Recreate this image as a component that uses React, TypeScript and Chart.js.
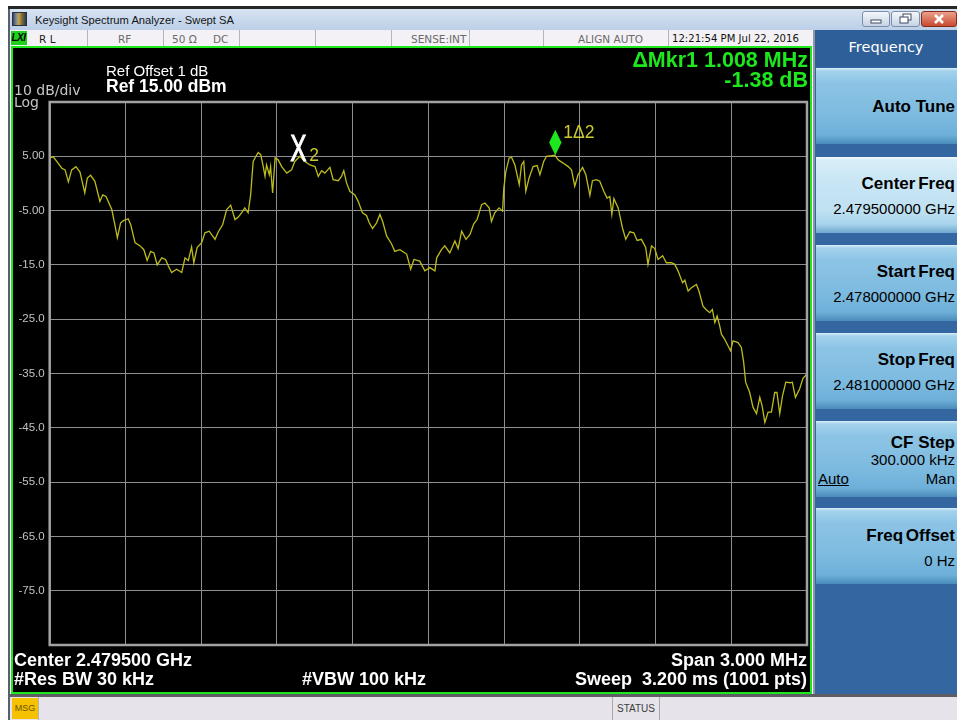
import React, { useEffect, useRef } from 'react';
import { Chart, registerables } from 'chart.js';

Chart.register(...registerables);

// ---- Trace data (offset from start frequency 2.478 GHz, in kHz) ----
const traceFreqKHz = [
  0, 14, 28, 48, 61, 74, 87, 104, 120, 139, 149, 162, 179, 199, 210, 223, 246, 258, 268, 281,
  294, 311, 321, 338, 358, 373, 386, 400, 413, 426, 444, 459, 470, 483, 503, 523, 536, 549, 562, 571,
  584, 602, 615, 632, 655, 668, 685, 701, 717, 734, 747, 760, 773, 786, 796, 806, 817, 826, 836, 846,
  853, 859, 870, 875, 883, 893, 905, 919, 939, 958, 971, 991, 1011, 1031, 1051, 1064, 1077, 1090, 1110, 1123,
  1143, 1156, 1165, 1176, 1189, 1209, 1222, 1239, 1255, 1266, 1279, 1295, 1308, 1319, 1335, 1354, 1367, 1387, 1414, 1430,
  1443, 1466, 1486, 1506, 1526, 1533, 1552, 1565, 1585, 1605, 1618, 1632, 1649, 1665, 1680, 1693, 1711, 1724, 1741, 1750,
  1763, 1780, 1794, 1799, 1807, 1820, 1830, 1843, 1860, 1869, 1878, 1886, 1899, 1915, 1931, 1942, 1957, 1968, 1988, 2001,
  2014, 2034, 2054, 2067, 2080, 2093, 2111, 2124, 2140, 2150, 2166, 2179, 2195, 2208, 2219, 2227, 2235, 2252, 2269, 2282,
  2298, 2314, 2327, 2344, 2361, 2370, 2384, 2397, 2410, 2428, 2443, 2463, 2476, 2489, 2507, 2516, 2529, 2542, 2562, 2572,
  2588, 2602, 2615, 2625, 2635, 2644, 2654, 2661, 2674, 2697, 2707, 2727, 2740, 2749, 2757, 2773, 2786, 2800, 2813, 2822,
  2833, 2846, 2859, 2872, 2881, 2892, 2903, 2916, 2934, 2942, 2954, 2971, 2984, 3000,
];
const traceLevelDb = [
  4.7, 4.9, 4.05, 2.8, 2.5, 0.3, 2.5, 3.1, 2.1, -1.75, 1.0, 1.5, 0.4, -3.3, -2.1, -2.4, -4.8, -7.6, -10.0, -7.25,
  -6.8, -6.5, -7.6, -10.9, -11.5, -12.2, -14.2, -12.5, -12.8, -15.0, -13.7, -14.0, -15.2, -16.4, -15.8, -16.4, -13.7, -14.2, -11.7, -14.6,
  -11.8, -10.9, -9.1, -8.8, -10.3, -8.9, -7.6, -4.8, -4.0, -6.65, -6.2, -5.4, -4.5, -5.4, -2.1, 4.05, 5.0, 5.7, 5.3, 3.1,
  1.3, 3.4, 1.6, 3.1, -1.75, 4.7, 4.35, 3.1, 1.9, 2.5, 4.05, 5.0, 4.05, 3.4, 3.1, 1.3, 2.35, 1.9, 2.95, 0.7,
  0.5, 1.3, 2.35, 0.1, -1.45, -2.1, -3.3, -5.4, -5.9, -7.25, -8.3, -7.25, -5.7, -7.0, -9.7, -11.1, -12.5, -12.2, -13.0, -15.8,
  -14.0, -14.3, -16.1, -15.5, -16.1, -13.7, -12.2, -11.5, -12.8, -10.6, -12.0, -8.8, -10.3, -9.4, -7.45, -6.65, -3.9, -3.6, -4.5, -7.0,
  -5.4, -4.5, -5.1, -0.85, 2.2, 4.7, 4.8, 3.4, -0.2, 3.4, 4.05, -1.45, 1.0, 3.1, 3.3, 1.6, 4.05, 5.0, 5.1, 5.2,
  4.35, 3.75, 3.1, 2.5, -0.5, 1.6, 2.95, 1.6, -2.2, 0.5, 0.7, 0.4, -1.45, -2.7, -2.4, -5.7, -2.8, -4.5, -8.2, -10.3,
  -8.9, -9.1, -10.5, -10.3, -11.8, -14.9, -11.5, -12.0, -14.0, -13.3, -14.6, -14.6, -14.9, -16.1, -18.3, -17.8, -19.8, -19.2, -18.6, -19.8,
  -22.6, -23.3, -23.8, -23.2, -25.6, -24.4, -26.2, -27.75, -28.7, -30.8, -29.0, -29.3, -30.2, -32.9, -36.6, -38.5, -41.2, -42.4, -39.4, -40.9,
  -44.0, -42.1, -42.1, -38.5, -38.5, -42.4, -39.1, -36.6, -36.7, -36.6, -39.4, -37.8, -35.9, -35.1,
];

// ---- Axes ----
const freqStartKHz = 0;
const freqStopKHz = 3000;
const freqDivKHz = 300;
const refLevelDb = 15;
const bottomLevelDb = -85;
const dbPerDiv = 10;
// tick labels from top gridline (15) down to bottom gridline (-85)
const yTickLabels = ['', '5.00', '-5.00', '-15.0', '-25.0', '-35.0', '-45.0', '-55.0', '-65.0', '-75.0', ''];

// ---- Markers ----
const markerNames = ['1\u03942', '2'];
const markerFreqKHz = [2003, 985];
const markerLevelDb = [5.18, 6.56];

// ---- Softkeys ----
const softkeyTitles = ['Auto Tune', 'Center Freq', 'Start Freq', 'Stop Freq', 'CF Step', 'Freq Offset'];
const softkeyValues = ['', '2.479500000 GHz', '2.478000000 GHz', '2.481000000 GHz', '300.000 kHz', '0 Hz'];

const SANS = '"Liberation Sans", Arial, Helvetica, sans-serif';
const DEJ = '"DejaVu Sans", Verdana, sans-serif';
const GREEN = '#1de81d';
const TRACE = '#bcbc1c';
const MKTXT = '#c8c832';

const overlayPlugin = {
  id: 'saOverlay',
  afterDatasetsDraw(chart: any) {
    const { ctx, chartArea: a } = chart;
    const xs = chart.scales.x;
    const ys = chart.scales.y;
    ctx.save();
    ctx.strokeStyle = '#a2a2a2';
    ctx.lineWidth = 2.5;
    ctx.strokeRect(a.left, a.top, a.right - a.left, a.bottom - a.top);

    // marker 1: green diamond, tip on the trace
    const x1 = xs.getPixelForValue(markerFreqKHz[0]);
    const y1 = ys.getPixelForValue(markerLevelDb[0]);
    ctx.fillStyle = GREEN;
    ctx.beginPath();
    ctx.moveTo(x1, y1);
    ctx.lineTo(x1 + 6.2, y1 - 12.8);
    ctx.lineTo(x1, y1 - 25.6);
    ctx.lineTo(x1 - 6.2, y1 - 12.8);
    ctx.closePath();
    ctx.fill();
    ctx.fillStyle = MKTXT;
    ctx.font = '17.5px ' + SANS;
    ctx.textAlign = 'left';
    ctx.textBaseline = 'alphabetic';
    ctx.fillText(markerNames[0], x1 + 8, y1 - 17.5);

    // marker 2: reference "X"
    const x2 = xs.getPixelForValue(markerFreqKHz[1]);
    const y2 = ys.getPixelForValue(markerLevelDb[1]);
    ctx.save();
    ctx.translate(x2, y2);
    ctx.scale(0.68, 1);
    ctx.fillStyle = '#ffffff';
    ctx.strokeStyle = '#ffffff';
    ctx.lineWidth = 1;
    ctx.font = '36px ' + SANS;
    ctx.textAlign = 'center';
    ctx.fillText('X', 0, 13);
    ctx.strokeText('X', 0, 13);
    ctx.restore();
    ctx.fillStyle = MKTXT;
    ctx.font = '17.5px ' + SANS;
    ctx.textAlign = 'left';
    ctx.fillText(markerNames[1], x2 + 11, y2 + 13.5);
    ctx.restore();
  },
};

function TraceChart() {
  const ref = useRef<HTMLCanvasElement | null>(null);
  useEffect(() => {
    const canvas = ref.current;
    if (!canvas) return;
    const chart = new Chart(canvas, {
      type: 'line',
      data: {
        datasets: [
          {
            data: traceFreqKHz.map((f, i) => ({ x: f, y: traceLevelDb[i] })),
            borderColor: TRACE,
            borderWidth: 1.3,
            pointRadius: 0,
            tension: 0,
            fill: false,
          },
        ],
      },
      options: {
        animation: false,
        responsive: false,
        devicePixelRatio: 1,
        events: [],
        layout: { padding: { left: 0, right: 2, top: 54, bottom: 47 } },
        plugins: { legend: { display: false }, tooltip: { enabled: false } },
        scales: {
          x: {
            type: 'linear',
            min: freqStartKHz,
            max: freqStopKHz,
            ticks: { display: false, stepSize: freqDivKHz },
            grid: { color: '#8e8e8e', lineWidth: 1, drawTicks: false },
            border: { display: false },
            afterFit: (s: any) => {
              s.height = 0;
            },
          },
          y: {
            type: 'linear',
            min: bottomLevelDb,
            max: refLevelDb,
            ticks: {
              stepSize: dbPerDiv,
              color: '#c2c2c2',
              padding: 5,
              font: { family: SANS, size: 11.5 },
              callback: (v: any) => yTickLabels[Math.round((refLevelDb - Number(v)) / dbPerDiv)] ?? '',
            },
            grid: { color: '#8e8e8e', lineWidth: 1, drawTicks: false },
            border: { display: false },
            afterFit: (s: any) => {
              s.width = 36.7;
            },
          },
        },
      } as any,
      plugins: [overlayPlugin],
    });
    return () => chart.destroy();
  }, []);
  return (
    <canvas
      ref={ref}
      width={796}
      height={644}
      style={{ position: 'absolute', left: 13, top: 48, width: 796, height: 644, display: 'block' }}
    />
  );
}

const box = (l: number, t: number, w: number, h: number, extra: any = {}): any => ({
  position: 'absolute',
  left: l,
  top: t,
  width: w,
  height: h,
  ...extra,
});

function Txt(props: {
  l?: number;
  r?: number;
  t: number;
  size: number;
  color?: string;
  bold?: boolean;
  family?: string;
  children: any;
  extra?: any;
}) {
  const st: any = {
    position: 'absolute',
    top: props.t,
    fontSize: props.size,
    lineHeight: 1,
    whiteSpace: 'pre',
    color: props.color ?? '#fff',
    fontWeight: props.bold ? 'bold' : 'normal',
    fontFamily: props.family ?? SANS,
    ...(props.extra || {}),
  };
  if (props.l !== undefined) st.left = props.l;
  if (props.r !== undefined) st.right = 957 - props.r;
  return <div style={st}>{props.children}</div>;
}

const normalKey =
  'linear-gradient(to bottom, #d9eef9 0px, #a3d2ec 3px, #8cc4e5 20%, #7ebbe0 60%, #6eb0d9 88%, #4a8cbb 100%)';
const activeKey =
  'linear-gradient(to bottom, #f4fbfe 0px, #d8eef8 3px, #c9e6f5 30%, #bfe1f2 70%, #a9d4ec 88%, #6fa7cf 100%)';

function SoftKeys() {
  const tops = [68, 157, 245, 333, 421, 508];
  return (
    <>
      {tops.map((t, i) => (
        <div key={i} style={box(816, t, 141, 76, { background: i === 1 ? activeKey : normalKey })} />
      ))}
      {/* Auto Tune */}
      <Txt r={955} t={97.8} size={17} bold color="#000">
        {softkeyTitles[0]}
      </Txt>
      {/* Center / Start / Stop */}
      {[1, 2, 3].map((i) => (
        <React.Fragment key={i}>
          <Txt r={955} t={tops[i] + 18} size={17} bold color="#000" extra={{ wordSpacing: -2 }}>
            {softkeyTitles[i]}
          </Txt>
          <Txt r={955} t={tops[i] + 43.5} size={15} color="#000">
            {softkeyValues[i]}
          </Txt>
        </React.Fragment>
      ))}
      {/* CF Step */}
      <Txt r={955} t={tops[4] + 13} size={17} bold color="#000">
        {softkeyTitles[4]}
      </Txt>
      <Txt r={955} t={tops[4] + 31} size={15} color="#000">
        {softkeyValues[4]}
      </Txt>
      <Txt l={818} t={tops[4] + 50} size={15} color="#000" extra={{ textDecoration: 'underline' }}>
        Auto
      </Txt>
      <Txt r={955} t={tops[4] + 50} size={15} color="#000">
        Man
      </Txt>
      {/* Freq Offset */}
      <Txt r={955} t={tops[5] + 19} size={17} bold color="#000" extra={{ wordSpacing: -2 }}>
        {softkeyTitles[5]}
      </Txt>
      <Txt r={955} t={tops[5] + 45} size={15} color="#000">
        {softkeyValues[5]}
      </Txt>
    </>
  );
}

export default function App() {
  const dividers = [87, 163, 239, 315, 391, 469, 543, 668];
  return (
    <div
      style={{
        position: 'fixed',
        left: 0,
        top: 0,
        width: 957,
        height: 720,
        background: '#ffffff',
        overflow: 'hidden',
        fontFamily: SANS,
      }}
    >
      {/* window frame */}
      <div style={box(8, 6, 949, 3, { background: '#262626' })} />
      <div style={box(8, 9, 2, 711, { background: '#56606e' })} />

      {/* title bar */}
      <div style={box(10, 9, 947, 21, { background: 'linear-gradient(#d6e3f2, #bccfe8)' })} />
      <div
        style={box(12, 12, 15, 14, {
          background: 'linear-gradient(90deg, #3a4660 0%, #7d8aa0 25%, #c7a645 45%, #8a7434 65%, #2d3852 100%)',
          border: '1px solid #2a2f3a',
          boxSizing: 'border-box',
        })}
      />
      <Txt l={35} t={15} size={11.2} color="#141414">
        Keysight Spectrum Analyzer - Swept SA
      </Txt>
      <div
        style={box(862, 11, 28, 16, {
          background: 'linear-gradient(#f4f7fb, #c6d3e5)',
          border: '1px solid #7d8ea8',
          borderRadius: 3,
          boxSizing: 'border-box',
        })}
      >
        <svg width="26" height="14" style={{ position: 'absolute', left: 0, top: 0 }}>
          <rect x="8" y="8" width="10" height="3" fill="#fff" stroke="#3c4a60" strokeWidth="1" />
        </svg>
      </div>
      <div
        style={box(891, 11, 29, 16, {
          background: 'linear-gradient(#f4f7fb, #c6d3e5)',
          border: '1px solid #7d8ea8',
          borderRadius: 3,
          boxSizing: 'border-box',
        })}
      >
        <svg width="27" height="14" style={{ position: 'absolute', left: 0, top: 0 }}>
          <rect x="11" y="2" width="8" height="6" fill="#fff" stroke="#3c4a60" strokeWidth="1" />
          <rect x="8" y="5" width="8" height="6" fill="#fff" stroke="#3c4a60" strokeWidth="1" />
        </svg>
      </div>
      <div
        style={box(921, 11, 36, 16, {
          background: 'linear-gradient(#eba08c, #c84a30)',
          border: '1px solid #8a2c1c',
          borderRadius: 3,
          boxSizing: 'border-box',
        })}
      >
        <svg width="34" height="14" style={{ position: 'absolute', left: 0, top: 0 }}>
          <path d="M13 3 L21 11 M21 3 L13 11" stroke="#fff" strokeWidth="2.6" />
        </svg>
      </div>

      {/* status row */}
      <div style={box(10, 30, 803, 16, { background: '#f3f1f5' })} />
      {dividers.map((x) => (
        <div key={x} style={box(x, 30, 1, 16, { background: '#b6b6b8' })} />
      ))}
      <div style={box(11, 31, 16, 14, { background: '#1fd01f' })} />
      <Txt l={11.5} t={33} size={10} color="#000" bold extra={{ fontStyle: 'italic', letterSpacing: -0.5 }}>
        LXI
      </Txt>
      <Txt l={39} t={33.8} size={10.5} color="#1c1c1c" family={DEJ}>
        R L
      </Txt>
      <Txt l={118} t={33.8} size={10.5} color="#6a6a6a" family={DEJ}>
        RF
      </Txt>
      <Txt l={172} t={33.8} size={10.5} color="#6a6a6a" family={DEJ}>
        50 Ω
      </Txt>
      <Txt l={213} t={33.8} size={10.5} color="#6a6a6a" family={DEJ}>
        DC
      </Txt>
      <Txt l={411} t={33.8} size={10.5} color="#6a6a6a" family={DEJ}>
        SENSE:INT
      </Txt>
      <Txt l={578} t={33.8} size={10.5} color="#6a6a6a" family={DEJ}>
        ALIGN AUTO
      </Txt>
      <Txt l={672} t={33.8} size={10.1} color="#111" family={DEJ}>
        12:21:54 PM Jul 22, 2016
      </Txt>

      {/* display */}
      <div
        style={box(11, 46, 801, 648, {
          background: '#000',
          border: '2px solid ' + GREEN,
          boxSizing: 'border-box',
        })}
      />
      <TraceChart />
      <Txt l={106} t={63} size={15} color="#fff">
        Ref Offset 1 dB
      </Txt>
      <Txt l={106} t={77.7} size={17.5} color="#fff" bold>
        Ref 15.00 dBm
      </Txt>
      <Txt l={14} t={83.4} size={14} color="#c6c6c6" family={DEJ}>
        10 dB/div
      </Txt>
      <Txt l={14} t={95} size={14} color="#c6c6c6" family={DEJ}>
        Log
      </Txt>
      <Txt r={808} t={50.2} size={21.5} color={GREEN} bold>
        ΔMkr1 1.008 MHz
      </Txt>
      <Txt r={808} t={70.2} size={21.5} color={GREEN} bold>
        -1.38 dB
      </Txt>
      <Txt l={14} t={650.7} size={18} color="#fff" bold>
        Center 2.479500 GHz
      </Txt>
      <Txt l={14} t={669.7} size={18} color="#fff" bold>
        #Res BW 30 kHz
      </Txt>
      <Txt l={302} t={669.7} size={18} color="#fff" bold>
        #VBW 100 kHz
      </Txt>
      <Txt r={807} t={650.7} size={18} color="#fff" bold>
        Span 3.000 MHz
      </Txt>
      <Txt r={807} t={669.7} size={18} color="#fff" bold>
        {'Sweep  3.200 ms (1001 pts)'}
      </Txt>

      {/* right softkey panel */}
      <div
        style={box(813, 30, 144, 667, {
          background: '#3466a1',
          borderLeft: '2px solid #8e97a4',
          boxSizing: 'border-box',
        })}
      />
      <div style={box(815, 30, 142, 37, { background: '#2f5f99' })} />
      <Txt l={815} t={40.3} size={14.5} color="#fff" family={DEJ} extra={{ width: 142, textAlign: 'center' }}>
        Frequency
      </Txt>
      <SoftKeys />

      {/* bottom bar */}
      <div style={box(9, 694, 948, 3, { background: '#5e5e62' })} />
      <div style={box(10, 697, 947, 23, { background: '#e6e4ea' })} />
      <div style={box(12, 698, 26, 21, { background: '#f6c200' })} />
      <Txt l={12} t={704} size={9} color="#6b5200" extra={{ width: 26, textAlign: 'center' }}>
        MSG
      </Txt>
      <div style={box(38, 697, 1, 23, { background: '#b3b3b3' })} />
      <div style={box(612, 697, 1, 23, { background: '#a9a9ab' })} />
      <div style={box(659, 697, 1, 23, { background: '#a9a9ab' })} />
      <Txt l={613} t={703.5} size={10} color="#3c3c3c" extra={{ width: 46, textAlign: 'center' }}>
        STATUS
      </Txt>
    </div>
  );
}
